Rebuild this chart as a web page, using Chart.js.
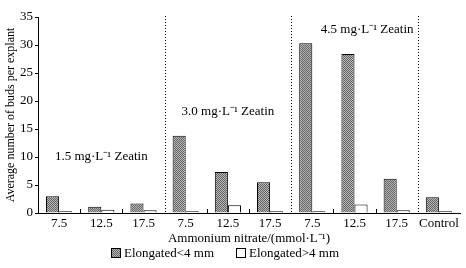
<!DOCTYPE html>
<html><head><meta charset="utf-8">
<script src="https://cdn.jsdelivr.net/npm/chart.js@4/dist/chart.umd.min.js"></script>
<style>html,body{margin:0;padding:0;background:#fff}#w{width:466px;height:268px}</style>
</head><body><div id="w"><canvas id="c"></canvas></div>
<script>
const categories = ['7.5','12.5','17.5','7.5','12.5','17.5','7.5','12.5','17.5','Control'];
const shortBuds = [3.0,1.1,1.7,13.8,7.3,5.5,30.3,28.4,6.1,2.8];
const longBuds  = [0.3,0.6,0.5,0.3,1.4,0.3,0.3,1.5,0.5,0.3];
const seriesNames = ['Elongated<4 mm','Elongated>4 mm'];
const groupLabels = ['1.5 mg·L⁻¹ Zeatin','3.0 mg·L⁻¹ Zeatin','4.5 mg·L⁻¹ Zeatin'];
const groupLabelAt = [[1,10.1],[4,18.2],[7.3,32.7]];
const dividerAfter = [2,5,8];
const yTicks = [0,5,10,15,20,25,30,35];

const pc = document.createElement('canvas'); pc.width=2; pc.height=2;
const px = pc.getContext('2d');
px.fillStyle='#b4b4b4'; px.fillRect(0,0,2,2);
px.fillStyle='#666666'; px.fillRect(0,0,1,1); px.fillRect(1,1,1,1);
const pattern = px.createPattern(pc,'repeat');

const FONT = "'Liberation Serif','Times New Roman',serif";

const deco = {
  id:'deco',
  afterDatasetsDraw(chart){
    const {ctx, chartArea:a, scales:{x,y}} = chart;
    ctx.save();
    ctx.strokeStyle='#000'; ctx.lineWidth=1;
    ctx.setLineDash([1,2]);
    dividerAfter.forEach(i=>{
      const xx = Math.round((x.getPixelForValue(i)+x.getPixelForValue(i+1))/2)+0.5;
      ctx.beginPath(); ctx.moveTo(xx, a.top-1); ctx.lineTo(xx, a.bottom); ctx.stroke();
    });
    ctx.setLineDash([]);
    for(let i=0;i<categories.length-1;i++){
      if(dividerAfter.includes(i)) continue;
      const xx = Math.round((x.getPixelForValue(i)+x.getPixelForValue(i+1))/2)+0.5;
      ctx.beginPath(); ctx.moveTo(xx, a.bottom); ctx.lineTo(xx, a.bottom-4); ctx.stroke();
    }
    ctx.fillStyle='#000'; ctx.font='13px '+FONT; ctx.textAlign='center'; ctx.textBaseline='middle';
    groupLabels.forEach((t,k)=>{
      const [ci,v]=groupLabelAt[k];
      const p0=x.getPixelForValue(Math.floor(ci)), p1=x.getPixelForValue(Math.floor(ci)+1);
      const xx=p0+(p1-p0)*(ci-Math.floor(ci));
      ctx.fillText(t, xx, y.getPixelForValue(v));
    });
    const ds = chart.data.datasets;
    ctx.font='13px '+FONT; ctx.textAlign='left';
    const box=10, gap=3, sep=22;
    const widths = ds.map(d=>box+gap+ctx.measureText(d.label).width);
    const total = widths.reduce((s,w)=>s+w,0)+sep*(ds.length-1);
    let lx = Math.round(225 - total/2);
    const ly = 253;
    ds.forEach((d,k)=>{
      ctx.fillStyle=d.backgroundColor; ctx.fillRect(lx, ly-5, box, box);
      ctx.strokeStyle='#000'; ctx.strokeRect(lx+0.5, ly-4.5, box-1, box-1);
      ctx.fillStyle='#000'; ctx.fillText(d.label, lx+box+gap, ly+1);
      lx += widths[k]+sep;
    });
    ctx.restore();
  }
};

new Chart(document.getElementById('c'),{
  type:'bar',
  data:{labels:categories,datasets:[
    {label:seriesNames[0],data:shortBuds,backgroundColor:pattern,borderColor:'#000',borderWidth:1,categoryPercentage:0.62,barPercentage:1},
    {label:seriesNames[1],data:longBuds,backgroundColor:'#fff',borderColor:'#000',borderWidth:1,categoryPercentage:0.62,barPercentage:1}
  ]},
  options:{
    responsive:true,maintainAspectRatio:false,animation:false,
    layout:{padding:{left:4,right:6,top:17,bottom:22}},
    plugins:{tooltip:{enabled:false},legend:{display:false}},
    scales:{
      x:{
        afterFit(s){s.height=33;},
        grid:{display:false,drawTicks:false},
        border:{color:'#000',width:1},
        ticks:{color:'#000',font:{family:FONT,size:13},padding:3,maxRotation:0,autoSkip:false},
        title:{display:true,text:'Ammonium nitrate/(mmol·L⁻¹)',color:'#000',font:{family:FONT,size:13},padding:{top:1,bottom:0}}
      },
      y:{
        min:0,max:35,
        afterFit(s){s.width=34;},
        afterBuildTicks(s){s.ticks=yTicks.map(v=>({value:v}));},
        grid:{display:true,drawOnChartArea:false,drawTicks:true,tickLength:3,color:'#000'},
        border:{color:'#000',width:1},
        ticks:{color:'#000',font:{family:FONT,size:13},padding:2},
        title:{display:true,text:'Average number of buds per explant',color:'#000',font:{family:FONT,size:12},padding:{top:0,bottom:2}}
      }
    }
  },
  plugins:[deco]
});
</script></body></html>
